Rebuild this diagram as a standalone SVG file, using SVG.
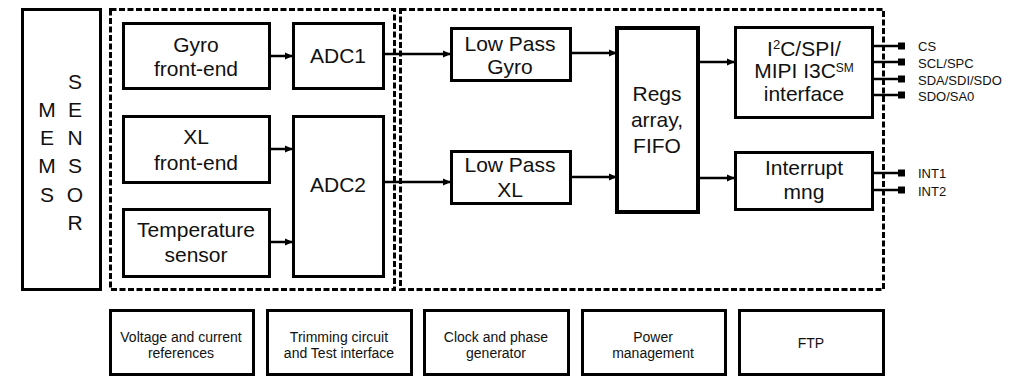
<svg xmlns="http://www.w3.org/2000/svg" width="1025" height="377" viewBox="0 0 1025 377">
<style>
.box{fill:#fff;stroke:#000;stroke-width:3}
.thick{fill:#fff;stroke:#000;stroke-width:4}
.dash{fill:none;stroke:#000;stroke-width:3;stroke-dasharray:6 2.5}
.t{font-family:"Liberation Sans",Arial,sans-serif;font-size:21px;fill:#111;text-anchor:middle}
.s{font-family:"Liberation Sans",Arial,sans-serif;font-size:14px;fill:#111;text-anchor:middle}
.p{font-family:"Liberation Sans",Arial,sans-serif;font-size:13px;fill:#111}
.c{stroke:#000;stroke-width:2.5;fill:none}
.pin{stroke:#000;stroke-width:2.5}
</style>
<defs>
<marker id="ah" markerWidth="9" markerHeight="8" refX="8" refY="4" orient="auto" markerUnits="userSpaceOnUse">
<path d="M0,0.5 L8,4 L0,7.5 z" fill="#000"/>
</marker>
</defs>
<rect class="box" x="22.5" y="9.5" width="78" height="280"/>
<g id="mems">
<text class="t" x="47" y="117">M</text>
<text class="t" x="47" y="145">E</text>
<text class="t" x="47" y="173">M</text>
<text class="t" x="47" y="202">S</text>
<text class="t" x="75" y="89">S</text>
<text class="t" x="75" y="117">E</text>
<text class="t" x="75" y="145">N</text>
<text class="t" x="75" y="173">S</text>
<text class="t" x="75" y="202">O</text>
<text class="t" x="75" y="230">R</text>
</g>
<g id="frame-analog"><rect class="dash" x="110.5" y="9.5" width="284" height="280"/></g>
<g id="frame-digital"><rect class="dash" x="400.5" y="9.5" width="483" height="280"/></g>
<g id="connectors">
<line class="c" x1="269" y1="56" x2="293" y2="56" marker-end="url(#ah)"/>
<line class="c" x1="269" y1="149" x2="293" y2="149" marker-end="url(#ah)"/>
<line class="c" x1="269" y1="242" x2="293" y2="242" marker-end="url(#ah)"/>
<line class="c" x1="383" y1="54" x2="451" y2="54" marker-end="url(#ah)"/>
<line class="c" x1="383" y1="182" x2="451" y2="182" marker-end="url(#ah)"/>
<line class="c" x1="570" y1="53" x2="617" y2="53" marker-end="url(#ah)"/>
<line class="c" x1="570" y1="177" x2="617" y2="177" marker-end="url(#ah)"/>
<line class="c" x1="698" y1="62" x2="735" y2="62" marker-end="url(#ah)"/>
<line class="c" x1="698" y1="178" x2="735" y2="178" marker-end="url(#ah)"/>
</g>
<g id="gyro-fe"><rect class="box" x="123.5" y="23.5" width="146" height="65"/>
<text class="t" x="196" y="52">Gyro</text><text class="t" x="196" y="76">front-end</text></g>
<g id="adc1"><rect class="box" x="293.5" y="23.5" width="90" height="65"/>
<text class="t" x="338" y="63">ADC1</text></g>
<g id="xl-fe"><rect class="box" x="123.5" y="116.5" width="146" height="66"/>
<text class="t" x="196" y="144">XL</text><text class="t" x="196" y="170">front-end</text></g>
<g id="adc2"><rect class="box" x="293.5" y="116.5" width="90" height="160"/>
<text class="t" x="338" y="192">ADC2</text></g>
<g id="temp"><rect class="box" x="123.5" y="209.5" width="146" height="67"/>
<text class="t" x="196" y="237">Temperature</text><text class="t" x="196" y="262">sensor</text></g>
<g id="lp-gyro"><rect class="box" x="451.5" y="28.5" width="119" height="52"/>
<text class="t" x="510" y="51">Low Pass</text><text class="t" x="510" y="74">Gyro</text></g>
<g id="lp-xl"><rect class="box" x="451.5" y="151.5" width="119" height="52"/>
<text class="t" x="510" y="172">Low Pass</text><text class="t" x="510" y="197">XL</text></g>
<g id="regs"><rect class="thick" x="617" y="28" width="81" height="184"/>
<text class="t" x="657" y="101">Regs</text><text class="t" x="657" y="127">array,</text><text class="t" x="657" y="153">FIFO</text></g>
<g id="iface"><rect class="box" x="735.5" y="27.5" width="137" height="90"/>
<text class="t" x="804" y="56">I<tspan font-size="13" dy="-7">2</tspan><tspan dy="7">C/SPI/</tspan></text>
<text class="t" x="804" y="78">MIPI I3C<tspan font-size="12" dy="-6">SM</tspan></text>
<text class="t" x="804" y="101">interface</text></g>
<g id="intmng"><rect class="box" x="735.5" y="152.5" width="137" height="57"/>
<text class="t" x="804" y="175">Interrupt</text><text class="t" x="804" y="199">mng</text></g>
<g id="pins">
<line class="pin" x1="872" y1="46" x2="900" y2="46"/><rect x="898" y="42.5" width="7" height="7"/><text class="p" x="918" y="51">CS</text>
<line class="pin" x1="872" y1="62" x2="900" y2="62"/><rect x="898" y="58.5" width="7" height="7"/><text class="p" x="918" y="68">SCL/SPC</text>
<line class="pin" x1="872" y1="79" x2="900" y2="79"/><rect x="898" y="75.5" width="7" height="7"/><text class="p" x="918" y="85">SDA/SDI/SDO</text>
<line class="pin" x1="872" y1="95" x2="900" y2="95"/><rect x="898" y="91.5" width="7" height="7"/><text class="p" x="918" y="101">SDO/SA0</text>
<line class="pin" x1="872" y1="173" x2="900" y2="173"/><rect x="898" y="169.5" width="7" height="7"/><text class="p" x="918" y="178">INT1</text>
<line class="pin" x1="872" y1="190" x2="900" y2="190"/><rect x="898" y="186.5" width="7" height="7"/><text class="p" x="918" y="196">INT2</text>
</g>
<g id="vref"><rect class="box" x="110.5" y="310.5" width="143" height="64"/>
<text class="s" x="181" y="342">Voltage and current</text><text class="s" x="181" y="358">references</text></g>
<g id="trim"><rect class="box" x="267.5" y="310.5" width="144" height="64"/>
<text class="s" x="339" y="342">Trimming circuit</text><text class="s" x="339" y="358">and Test interface</text></g>
<g id="clock"><rect class="box" x="424.5" y="310.5" width="144" height="64"/>
<text class="s" x="496" y="342">Clock and phase</text><text class="s" x="496" y="358">generator</text></g>
<g id="power"><rect class="box" x="582.5" y="310.5" width="143" height="64"/>
<text class="s" x="653" y="342">Power</text><text class="s" x="653" y="358">management</text></g>
<g id="ftp"><rect class="box" x="739.5" y="310.5" width="144" height="64"/>
<text class="s" x="811" y="348">FTP</text></g>
</svg>
